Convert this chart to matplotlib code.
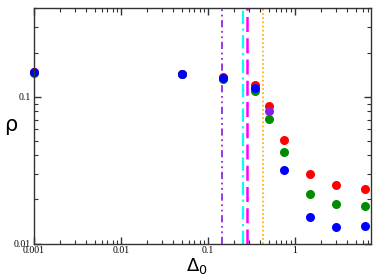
import matplotlib
matplotlib.use("Agg")
import matplotlib.pyplot as plt
from matplotlib.ticker import LogLocator, FixedLocator, FixedFormatter, NullFormatter

x_vals = [0.001, 0.05, 0.15, 0.35, 0.5, 0.75, 1.5, 3.0, 6.4]
red_y = [0.147, 0.144, 0.137, 0.121, 0.087, 0.051, 0.0298, 0.0253, 0.0234]
green_y = [0.146, 0.143, 0.132, 0.110, 0.071, 0.0419, 0.0218, 0.0185, 0.0181]
blue_x = [0.001, 0.05, 0.15, 0.35, 0.75, 1.5, 3.0, 6.4]
blue_y = [0.147, 0.144, 0.134, 0.114, 0.0316, 0.0153, 0.0130, 0.0133]
purple_x = [0.5]
purple_y = [0.080]

vlines_x = [0.145, 0.25, 0.278, 0.428]

fig = plt.figure(figsize=(3.74, 2.80), dpi=100)
ax = fig.add_axes([0.0909, 0.1296, 0.9011, 0.8404])
ax.set_xscale("log")
ax.set_yscale("log")
ax.set_xlim(0.001, 7.5)
ax.set_ylim(0.01, 0.4)

ax.axvline(vlines_x[0], color="#8a2be2", lw=1.3, dashes=(4, 2, 1, 2, 1, 2))
ax.axvline(vlines_x[1], color="#00ffff", lw=1.6, dashes=(6, 2, 1, 2))
ax.axvline(vlines_x[2], color="#ff00ff", lw=1.8, dashes=(6, 2.5))
ax.axvline(vlines_x[3], color="#ffa500", lw=1.2, dashes=(1, 1.5))

ms = 6.5
ax.plot(x_vals, red_y, "o", color="#ff0000", ms=ms, mec="none", clip_on=False)
ax.plot(x_vals, green_y, "o", color="#008c00", ms=ms, mec="none", clip_on=False)
ax.plot(blue_x, blue_y, "o", color="#0000ff", ms=ms, mec="none", clip_on=False)
ax.plot(purple_x, purple_y, "o", color="#8a1ee6", ms=ms, mec="none", clip_on=False)

ax.xaxis.set_major_locator(FixedLocator([0.001, 0.01, 0.1, 1]))
ax.xaxis.set_major_formatter(FixedFormatter(["0.001", "0.01", "0.1", "1"]))
ax.xaxis.set_minor_locator(LogLocator(base=10, subs=range(2, 10), numticks=20))
ax.xaxis.set_minor_formatter(NullFormatter())
ax.yaxis.set_major_locator(FixedLocator([0.01, 0.1]))
ax.yaxis.set_major_formatter(FixedFormatter(["0.01", "0.1"]))
ax.yaxis.set_minor_locator(LogLocator(base=10, subs=range(2, 10), numticks=20))
ax.yaxis.set_minor_formatter(NullFormatter())

ax.tick_params(which="both", direction="in", top=True, right=True, colors="#333333",
               labelcolor="black")
ax.tick_params(which="major", length=5, width=1, labelsize=7, pad=2)
ax.tick_params(which="minor", length=3, width=0.8)
for lab in ax.get_xticklabels() + ax.get_yticklabels():
    lab.set_family(["Liberation Serif", "DejaVu Serif"])
for sp in ax.spines.values():
    sp.set_color("#333333")
    sp.set_linewidth(1.0)

fig.text(0.028, 0.555, "ρ", fontsize=15, ha="center", va="center", family="DejaVu Sans")
fig.text(0.525, 0.05, r"Δ$_0$", fontsize=13, ha="center", va="center", family="DejaVu Sans")

fig.savefig("out.png", dpi=100)
